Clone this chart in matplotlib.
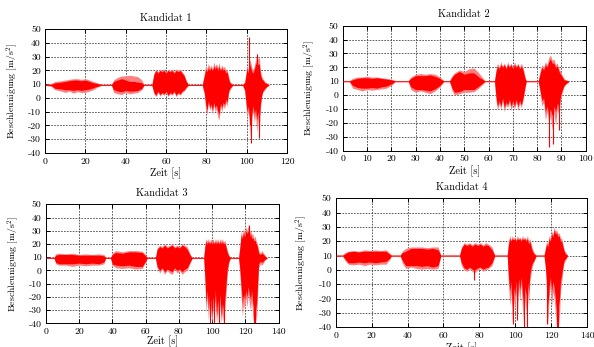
import numpy as np
import matplotlib
matplotlib.use("Agg")
import matplotlib.pyplot as plt

plt.rcParams['font.family'] = ['cmr10', 'DejaVu Serif']
plt.rcParams['mathtext.fontset'] = 'cm'
plt.rcParams['axes.unicode_minus'] = False

RED = '#ff0000'
PINK = '#ff8080'

# envelope data: time, pink hi/lo, red hi/lo
k1_t = [0, 3, 5, 8, 10, 12, 14, 16, 18, 20, 22, 24, 26, 28,
        33, 34, 36, 38, 40, 42, 44, 46, 48, 49,
        53, 54, 55, 56, 57, 58, 59, 60, 61, 62, 63, 64, 65, 66, 67, 68, 69, 70, 71,
        78, 79, 79.7, 80.3, 81, 81.7, 82.3, 83, 83.7, 84.3, 85, 85.7, 86.3, 87, 87.7, 88.3, 89, 89.7, 90.3, 91, 91.7, 93,
        98, 99, 99.6, 100.2, 100.8, 101.4, 102, 102.6, 103.2, 103.8, 104.4, 105, 105.6, 106.2, 106.8, 107.4, 108, 109, 110, 111]
k1_hi = [10, 10.5, 12, 12.5, 13, 13.5, 14, 14, 13.5, 14, 13, 12, 11, 10,
         10, 13, 15, 16, 16, 16.5, 16, 15.5, 13, 10,
         10, 18, 21, 19, 21, 20, 21, 19, 21, 20, 21, 19, 21, 20, 21, 19, 17, 13, 10,
         10, 18, 24, 21, 25, 22, 24, 21, 26, 23, 25, 22, 25.5, 21, 24, 22, 23, 20, 21, 16, 12, 10,
         10, 12, 18, 24, 20, 28, 26, 22, 20, 24, 27, 33, 28, 30, 20, 16, 14, 12, 11, 10]
k1_lo = [9, 8.5, 6, 5, 4, 5, 3.5, 4.5, 4, 4, 5, 6, 8, 9,
         9, 4, 3, 2.5, 4, 3, 3.5, 4, 6, 9,
         9, 3, 1, 4, 1.5, 3, 2, 4, 1, 3, 2, 4, 1, 3, 2, 4, 5, 7, 9,
         9, 2, -8, -12, -4, -9, -6, -12, -5, -10, -8, -14, -16, -6, -10, -5, -8, -3, -6, 3, 6, 9,
         9, 5, -5, -14, -10, -20, -32, -15, -10, -18, -12, -25, -15, -29, -8, 0, 4, 6, 8, 9]
k1_rhi = [9.8, 10, 11, 11.5, 12, 12.5, 13, 13, 12.5, 13, 12, 11, 10.5, 9.8,
          9.8, 12, 13, 14, 13, 12, 12, 11.5, 11, 9.8,
          9.8, 17, 20, 18, 20, 19, 20, 18, 20, 19, 20, 18, 20, 19, 20, 18, 16, 12, 9.8,
          9.8, 16, 21, 19, 22, 20, 22, 20, 23, 21, 23, 20, 23, 20, 22, 20, 21, 18, 19, 14, 11, 9.8,
          9.8, 11, 16, 22, 18, 25, 22, 19, 18, 21, 24, 27, 24, 25, 17, 14, 13, 11, 10.5, 9.8]
k1_rlo = [9.2, 9, 7, 6.5, 6, 6, 5.5, 6, 5.5, 6, 6.5, 7.5, 8.5, 9.2,
          9.2, 6, 5, 4.5, 5.5, 5, 5, 5.5, 7, 9.2,
          9.2, 4, 2, 5, 2.5, 4, 3, 5, 2, 4, 3, 5, 2, 4, 3, 5, 6, 8, 9.2,
          9.2, 4, -5, -9, -2, -7, -4, -9, -3, -7, -5, -10, -12, -4, -7, -3, -5, -1, -3, 5, 7, 9.2,
          9.2, 6, -2, -10, -6, -14, -18, -10, -6, -12, -8, -16, -10, -16, -4, 2, 5, 7, 8.5, 9.2]
k1_sp_t = [101, 101.5, 102, 105, 106]
k1_sp_lo = [10, -20, -33, 10, -29]
k1_sp_hi = [44.5, 10, 10, 32, 10]

k2_t = [0, 2.8, 4, 6, 8, 10, 12, 14, 16, 18, 20, 21.5,
        27, 28, 30, 32, 34, 36, 38, 40, 41.5,
        44, 45, 46, 48, 50, 52, 54, 56, 58.5,
        62.5, 63, 63.7, 64.4, 65.1, 65.8, 66.5, 67.2, 67.9, 68.6, 69.3, 70, 70.7, 71.4, 72.1, 72.8, 73.5, 74.2, 75, 75.5,
        80.5, 81.3, 82, 82.7, 83.4, 84.1, 84.8, 85.5, 86.2, 86.9, 87.6, 88.3, 89, 89.7, 90.4, 91.1, 92, 93]
k2_hi = [10.5, 10.5, 12, 13, 13, 13.5, 13, 13, 12.5, 12, 11.5, 10.5,
         10.5, 13, 15, 15.5, 15, 15.5, 15, 13, 10.5,
         10.5, 14, 16, 18, 17, 19, 19.5, 16, 10.5,
         10.5, 18, 23, 20, 24, 21, 23, 20, 24, 21, 23, 20, 24, 21, 23, 20, 23, 20, 14, 10.5,
         10.5, 18, 22, 20, 24, 22, 27, 29, 25, 26, 22, 23, 19, 17, 14, 12, 11, 10.5]
k2_lo = [9.5, 9.5, 5, 4, 3, 4, 3.5, 4, 4.5, 5, 7, 9.5,
         9.5, 4, 2, 3, 2, 1, 3, 6, 9.5,
         9.5, 3, 0, 1, 2, 2, 2.5, 5, 9.5,
         9.5, -3, -11, -6, -10, -4, -12, -7, -9, -5, -11, -6, -10, -5, -11, -6, -9, -4, 4, 9.5,
         9.5, 0, -8, -5, -18, -12, -20, -15, -25, -12, -22, -10, -15, -3, 2, 6, 8, 9.5]
k2_rhi = [10.3, 10.3, 11, 12, 12.5, 12.5, 12, 12.5, 12, 11.5, 11, 10.3,
          10.3, 12, 14, 14, 14, 14.5, 13.5, 12, 10.3,
          10.3, 13, 15, 17, 15, 16, 16, 13, 10.3,
          10.3, 16, 21, 19, 22, 20, 22, 19, 22, 20, 22, 19, 22, 20, 22, 19, 21, 18, 12, 10.3,
          10.3, 16, 20, 18, 22, 20, 24, 26, 23, 23, 20, 21, 17, 15, 13, 11, 10.5, 10.3]
k2_rlo = [9.7, 9.7, 7, 5.5, 5, 5, 5.5, 5, 6, 6.5, 8, 9.7,
          9.7, 6, 4, 4, 3.5, 3, 4.5, 7, 9.7,
          9.7, 5, 2, 2.5, 4, 4, 4, 6.5, 9.7,
          9.7, 0, -8, -4, -8, -2, -9, -5, -7, -3, -8, -4, -8, -3, -8, -4, -7, -2, 6, 9.7,
          9.7, 3, -4, -2, -12, -8, -14, -10, -15, -8, -12, -6, -8, 0, 4, 7, 8.5, 9.7]
k2_sp_t = [85, 86.5, 89]
k2_sp_lo = [-37.6, -35, -25]
k2_sp_hi = [10, 10, 10]

k3_t = [0, 5, 6, 8, 12, 16, 20, 24, 28, 32, 35, 36,
        39, 40, 42, 46, 50, 54, 58, 60, 61,
        66, 67, 68.5, 70, 71.5, 73, 74.5, 76, 77.5, 79, 80.5, 82, 83.5, 85, 87, 88,
        95, 95.7, 96.4, 97.1, 97.8, 98.5, 99.2, 99.9, 100.6, 101.3, 102, 102.7, 103.4, 104.1, 104.8, 105.5,
        106.2, 106.9, 107.6, 108.3, 109, 110, 111,
        116, 116.8, 117.5, 118.2, 118.9, 119.6, 120.3, 121, 121.7, 122.4, 123.1, 123.8, 124.5, 125.2,
        125.9, 126.6, 127.3, 128, 129, 130, 131, 132, 133]
k3_hi = [10, 10, 12.5, 13, 12.5, 13, 12, 12.5, 12, 12.5, 12, 10,
         10, 13, 15, 14, 15, 15, 14.5, 12, 10,
         10, 17, 19, 18, 20, 18, 19, 20, 18, 19, 18, 20, 19, 18, 12, 10,
         10, 20, 24, 22, 24, 21, 24, 22, 24, 21, 24, 22, 24, 21, 24, 22,
         24, 21, 23, 20, 16, 12, 10,
         10, 20, 30, 26, 32, 28, 33, 30, 34, 28, 31, 27, 28, 24,
         26, 22, 20, 15, 13, 15, 13, 11, 10]
k3_lo = [9, 9, 5, 4, 4, 3, 4, 3.5, 4, 4, 5, 9,
         9, 4, 2, 1.5, 2, 1, 1.5, 6, 9,
         9, 2, -2, 1, -3, 0, -2, -3, 1, -2, 0, -3, -1, 0, 6, 9,
         9, -10, -32, -20, -38, -25, -30, -40, -28, -35, -22, -40, -30, -38, -25, -40,
         -32, -40, -30, -20, -5, 5, 9,
         9, -5, -20, -35, -25, -30, -20, -28, -18, -25, -30, -22, -35, -40,
         -30, -40, -20, 2, 5, 4, 6, 8, 9]
k3_rhi = [9.8, 9.8, 11.5, 12, 12, 12, 11.5, 11.5, 11.5, 11.5, 11, 9.8,
          9.8, 12, 13.5, 13, 14, 14, 13.5, 11, 9.8,
          9.8, 16, 18, 17, 19, 17, 18, 19, 17, 18, 17, 19, 18, 16, 11, 9.8,
          9.8, 18, 22, 20, 22, 20, 22, 20, 22, 20, 22, 20, 22, 20, 22, 20,
          22, 20, 21, 18, 14, 11, 9.8,
          9.8, 18, 27, 24, 29, 25, 30, 28, 30, 25, 28, 24, 25, 22,
          23, 20, 18, 13, 12, 13, 12, 10.5, 9.8]
k3_rlo = [9.2, 9.2, 6, 5, 5, 5, 5.5, 5, 5.5, 5, 6.5, 9.2,
          9.2, 5, 4, 3.5, 4, 3, 3, 7, 9.2,
          9.2, 3, 0, 2, -1, 1, 0, -1, 2, 0, 1, -1, 1, 2, 7, 9.2,
          9.2, -5, -25, -15, -30, -18, -22, -35, -20, -28, -15, -35, -22, -30, -18, -35,
          -25, -30, -22, -12, 0, 7, 9.2,
          9.2, 0, -12, -25, -18, -22, -15, -20, -12, -18, -22, -15, -25, -30,
          -22, -30, -12, 5, 7, 6, 7.5, 8.5, 9.2]
k3_sp_t = [99, 101, 104, 107, 122, 125, 126]
k3_sp_lo = [-40, -40, -40, -40, 10, -40, -40]
k3_sp_hi = [10, 10, 10, 10, 34, 10, 10]

k4_t = [0, 4, 5, 7, 10, 13, 16, 19, 22, 25, 28, 30, 31,
        36, 37, 39, 42, 45, 48, 51, 54, 57, 58.5,
        69, 70, 71.5, 73, 74.5, 76, 77.5, 79, 80.5, 82, 83.5, 85, 87, 88.5,
        95.5, 96.2, 96.9, 97.6, 98.3, 99, 99.7, 100.4, 101.1, 101.8, 102.5, 103.2, 103.9, 104.6, 105.3,
        106, 106.7, 107.4, 108.1, 108.8, 109.5, 110.5, 111.5,
        116, 116.7, 117.4, 118.1, 118.8, 119.5, 120.2, 120.9, 121.6, 122.3, 123, 123.7, 124.4, 125.1,
        125.8, 126.5, 127.2, 128, 129]
k4_hi = [10.5, 10.5, 12, 13, 13.5, 13, 14, 13.5, 14, 13.5, 14, 12, 10.5,
         10.5, 13, 15, 16, 16, 16, 15.5, 16, 16, 10.5,
         10.5, 16, 19, 18, 19, 17.5, 19, 18, 19, 17.5, 19, 18, 16, 10.5,
         10.5, 20, 24, 21, 24, 22, 23, 21, 24, 22, 23, 21, 24, 22, 23,
         21, 24, 20, 22, 18, 15, 12, 10.5,
         10.5, 16, 20, 18, 24, 22, 27, 25, 30, 27, 28, 25, 26, 22,
         22, 18, 14, 12, 10.5]
k4_lo = [9.5, 9.5, 7, 4, 3.5, 4, 3, 4, 3.5, 4, 4, 7, 9.5,
         9.5, 5, 1, 2, 1, 0.5, 1, 0.5, 1, 9.5,
         9.5, 3, 0, -1, 1, -1, -2, 0, 1, -1, 0, 1, 3, 9.5,
         9.5, -10, -25, -15, -37, -20, -28, -15, -35, -12, -22, -10, -25, -38, -20,
         -30, -15, -25, -8, -2, 3, 6, 9.5,
         9.5, 0, -15, -38, -20, -10, -25, -15, -20, -30, -40, -22, -38, -15,
         -8, 0, 5, 7, 9.5]
k4_rhi = [10.3, 10.3, 11, 12.5, 13, 12.5, 13, 13, 13, 13, 13, 11, 10.3,
          10.3, 12, 13, 15, 15, 15, 14.5, 15, 14, 10.3,
          10.3, 15, 18, 17, 18, 16.5, 18, 17, 18, 16.5, 17.5, 17, 14, 10.3,
          10.3, 18, 22, 20, 22, 21, 22, 20, 22, 21, 22, 20, 22, 21, 22,
          20, 22, 18, 20, 16, 13, 11, 10.3,
          10.3, 14, 18, 16, 22, 20, 25, 23, 28, 25, 26, 23, 24, 20,
          20, 16, 13, 11, 10.3]
k4_rlo = [9.7, 9.7, 8, 5, 5, 5.5, 5, 5.5, 5, 5.5, 6, 8, 9.7,
          9.7, 7, 3, 3, 3, 2.5, 3, 2, 3, 9.7,
          9.7, 5, 1.5, 0.5, 2, 0.5, 0, 1.5, 2, 0.5, 1.5, 2, 5, 9.7,
          9.7, -5, -15, -8, -25, -12, -18, -8, -22, -6, -14, -5, -15, -25, -12,
          -18, -8, -15, -3, 2, 5, 7, 9.7,
          9.7, 3, -8, -25, -12, -5, -15, -8, -12, -20, -30, -15, -25, -8,
          -3, 3, 7, 8, 9.7]
k4_sp_t = [77, 98.5, 101, 105, 106.5, 117.5, 123, 124]
k4_sp_lo = [-7, -38, -35, -40, -40, -38, -40, -40]
k4_sp_hi = [10, 10, 10, 10, 10, 10, 10, 10]

titles = ['Kandidat 1', 'Kandidat 2', 'Kandidat 3', 'Kandidat 4']
xmax = [120, 100, 140, 140]
xstep = [20, 10, 20, 20]

boxes = [(0.0758, 0.559, 0.4074, 0.357),
         (0.577, 0.566, 0.409, 0.360),
         (0.077, 0.0683, 0.392, 0.343),
         (0.565, 0.0568, 0.4236, 0.372)]
xlab_y = [-0.12, -0.12, -0.105, -0.12]

panels = [(k1_t, k1_hi, k1_lo, k1_rhi, k1_rlo, k1_sp_t, k1_sp_lo, k1_sp_hi),
          (k2_t, k2_hi, k2_lo, k2_rhi, k2_rlo, k2_sp_t, k2_sp_lo, k2_sp_hi),
          (k3_t, k3_hi, k3_lo, k3_rhi, k3_rlo, k3_sp_t, k3_sp_lo, k3_sp_hi),
          (k4_t, k4_hi, k4_lo, k4_rhi, k4_rlo, k4_sp_t, k4_sp_lo, k4_sp_hi)]

fig = plt.figure(figsize=(5.94, 3.47), dpi=100)

for i, (t, hi, lo, rhi, rlo, sp_t, sp_lo, sp_hi) in enumerate(panels):
    ax = fig.add_axes(boxes[i])
    ax.fill_between(t, lo, hi, color=PINK, lw=0, zorder=2)
    ax.fill_between(t, rlo, rhi, color=RED, lw=0, zorder=3)
    ax.vlines(sp_t, sp_lo, sp_hi, color=RED, lw=0.8, zorder=3)

    ax.set_xlim(0, xmax[i])
    ax.set_ylim(-40, 50)
    ax.set_xticks(np.arange(0, xmax[i] + 1, xstep[i]))
    ax.set_yticks(np.arange(-40, 51, 10))
    ax.grid(True, color='#444444', linestyle=(0, (2, 1.5)), linewidth=0.6, zorder=1)
    ax.set_axisbelow(True)
    ax.tick_params(direction='in', length=3, width=0.7, top=True, right=True,
                   labelsize=7, pad=3)
    for s in ax.spines.values():
        s.set_linewidth(0.7)

    ax.set_title(titles[i], fontsize=7.5, pad=6)
    ax.set_xlabel('Zeit [s]', fontsize=7.5)
    ax.set_ylabel('Beschleunigung [m/s$^2$]', fontsize=7)
    ax.xaxis.set_label_coords(0.5, xlab_y[i])
    ax.yaxis.set_label_coords(-0.105, 0.5)

fig.savefig('out.png', dpi=100)
